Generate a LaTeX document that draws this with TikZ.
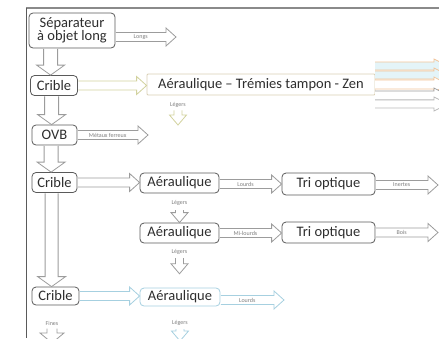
\documentclass[tikz,border=0pt]{standalone}
\usepackage{fontspec}
\setmainfont{Carlito}
\usetikzlibrary{calc}

\definecolor{boxline}{HTML}{5A5A5A}
\definecolor{arrline}{HTML}{9C9C9C}
\definecolor{olivel}{HTML}{D2D29E}
\definecolor{skyl}{HTML}{A6D0E0}
\definecolor{peach}{HTML}{F2C49A}
\definecolor{skyfill}{HTML}{E4F4F8}
\definecolor{tanl}{HTML}{D9CFB4}
\definecolor{txt}{HTML}{2E2E2E}
\definecolor{tagc}{HTML}{7E7E7E}
\definecolor{framec}{HTML}{8A8A8A}

\tikzset{
  stage/.style={draw=boxline, line width=0.8pt, rounded corners=4pt, fill=white,
    text=txt, font=\fontsize{14.5}{15}\selectfont, inner sep=0pt, align=center},
  flow/.style={draw=arrline, line width=0.8pt, fill=white, line join=miter},
  tag/.style={text=tagc, font=\fontsize{6}{6}\selectfont, inner sep=0pt},
}

% horizontal block arrow: style, start, end, label in the shaft
\newcommand{\hflow}[4]{%
  \draw[flow,#1] let \p1=#2, \p2=#3 in
    (\x1+0.4pt,\y1+4.5pt) -- (\x2-10pt,\y1+4.5pt) -- (\x2-10pt,\y1+9pt) -- (\x2,\y1)
    -- (\x2-10pt,\y1-9pt) -- (\x2-10pt,\y1-4.5pt) -- (\x1+0.4pt,\y1-4.5pt);
  \path let \p1=#2, \p2=#3 in node[tag] at ({(\x1+\x2-10pt)/2},\y1) {#4};
}

% vertical block arrow: style, start, end (its height only), shaft half width, head half width
\newcommand{\vflow}[5]{%
  \draw[flow,#1] let \p1=#2, \p2=#3 in
    (\x1-#4,\y1-0.4pt) -- (\x1-#4,\y2+10pt) -- (\x1-#5,\y2+10pt) -- (\x1,\y2)
    -- (\x1+#5,\y2+10pt) -- (\x1+#4,\y2+10pt) -- (\x1+#4,\y1-0.4pt);
}

\begin{document}
\begin{tikzpicture}[x=1pt,y=1pt]
  \useasboundingbox (0,0) rectangle (439,-338);
  \clip (0,0) rectangle (439,-338);

  % page frame
  \draw[framec, line width=1.2pt] (26,-8) -- (439,-8);
  \draw[boxline, line width=1pt] (26,-8) -- (26,-338);

  % process stages
  \node[stage, minimum width=86pt, minimum height=35pt] (sep) at (72,-30.5) {Séparateur\\[-2pt]à objet long};
  \node[stage, minimum width=47pt, minimum height=20pt] (crible1) at (54,-85.5) {Crible};
  \node[stage, draw=tanl, rounded corners=1pt, minimum width=228pt, minimum height=21pt] (zen) at (261,-84.5) {Aéraulique – Trémies tampon - Zen};
  \node[stage, minimum width=45pt, minimum height=20pt] (ovb) at (54.5,-135) {OVB};
  \node[stage, minimum width=45pt, minimum height=20pt] (crible2) at (54.5,-182.5) {Crible};
  \node[stage, minimum width=79pt, minimum height=20pt] (aero1) at (179.5,-183) {Aéraulique};
  \node[stage, minimum width=93pt, minimum height=22pt] (tri1) at (328.5,-184) {Tri optique};
  \node[stage, minimum width=79pt, minimum height=20pt] (aero2) at (179.5,-233) {Aéraulique};
  \node[stage, minimum width=93pt, minimum height=21pt] (tri2) at (328.5,-232.5) {Tri optique};
  \node[stage, minimum width=47pt, minimum height=18pt] (crible3) at (55.5,-296) {Crible};
  \node[stage, draw=skyl, minimum width=80pt, minimum height=18pt] (aero3) at (180,-297) {Aéraulique};

  % free ends of the outgoing flows
  \coordinate (longs) at (176,-37);
  \coordinate (metaux) at (148,-135);
  \coordinate (inertes) at (438,-185);
  \coordinate (bois) at (438,-233);
  \coordinate (lourds3) at (284,-300);
  \coordinate (zenLegA) at (178,-110);
  \coordinate (zenLegB) at (178,-125);
  \coordinate (fines) at (52,-343);
  \coordinate (legers3) at (180,-341);

  % horizontal flows
  \hflow{}{([yshift=-6.5pt]sep.east)}{(longs)}{Longs}
  \hflow{draw=olivel}{(crible1.east)}{(zen.west)}{}
  \hflow{}{(ovb.east)}{(metaux)}{Métaux ferreux}
  \hflow{}{(crible2.east)}{(aero1.west)}{}
  \hflow{}{([yshift=-1pt]aero1.east)}{(tri1.west)}{Lourds}
  \hflow{}{([yshift=-1pt]tri1.east)}{(inertes)}{Inertes}
  \hflow{}{(aero2.east)}{(tri2.west)}{Mi-lourds}
  \hflow{}{(tri2.east)}{(bois)}{Bois}
  \hflow{draw=skyl}{(crible3.east)}{(aero3.west)}{}
  \hflow{draw=skyl}{([yshift=-3pt]aero3.east)}{(lourds3)}{Lourds}

  % vertical flows down the screening line
  \vflow{}{($(sep.south west)+(22,0)$)}{(crible1.north)}{7pt}{14pt}
  \vflow{}{($(crible1.south west)+(21.5,0)$)}{(ovb.north)}{7pt}{14pt}
  \vflow{}{($(ovb.south west)+(19.5,0)$)}{(crible2.north)}{7pt}{14pt}
  \vflow{}{($(crible2.south west)+(20,0)$)}{(crible3.north)}{6.5pt}{14pt}

  % light fractions leaving the air separators
  \node[tag] (lz) at (178,-105) {Légers};
  \vflow{draw=olivel}{(zenLegA)}{(zenLegB)}{4pt}{8.5pt}
  \node[tag] (l1) at (179.5,-203) {Légers};
  \vflow{}{([yshift=-4pt]l1.south)}{(aero2.north)}{4pt}{8.5pt}
  \node[tag] (l2) at (179.5,-252) {Légers};
  \vflow{}{([yshift=-3pt]l2.south)}{([yshift=-19pt]l2.south)}{4pt}{8.5pt}
  \node[tag] (l3) at (180,-323) {Légers};
  \vflow{draw=skyl}{([yshift=-3pt]l3.south)}{(legers3)}{4pt}{8.5pt}
  \node[tag] (lf) at (52,-323) {Fines};
  \vflow{}{([yshift=-3pt]lf.south)}{(fines)}{5pt}{12pt}

  % outputs of the buffer hoppers, running off the sheet
  \foreach \top/\bot/\ln/\fl [count=\i] in {62/70/peach/skyfill, 71/79/peach/skyfill,
      80/89/peach/white, 91/100/arrline/white, 100/108/arrline!70/white} {
    \coordinate (zo\i) at (375,{-(\top+\bot)/2});
    \draw[line width=0.7pt, draw=\ln, fill=\fl]
      (375,-\top) -- (434,-\top) -- (434,-\top+3) -- (448,{-(\top+\bot)/2})
      -- (434,-\bot-3) -- (434,-\bot) -- (375,-\bot);
  }
\end{tikzpicture}
\end{document}
